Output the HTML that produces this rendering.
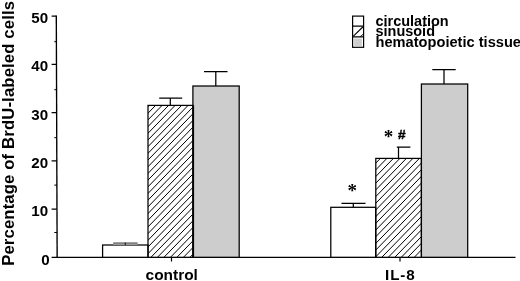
<!DOCTYPE html>
<html><head><meta charset="utf-8">
<style>
html,body{margin:0;padding:0;background:#fff;}
svg{display:block;}
text{font-family:"Liberation Sans",sans-serif;font-weight:bold;fill:#000;}
</style></head>
<body>
<svg width="520" height="281" viewBox="0 0 520 281">
<rect width="520" height="281" fill="#fff"/>
<g stroke="#000" stroke-width="1.2" fill="none">
<path d="M56.3,15.6 L57.15,257.9" stroke-width="1.35"/>
<path d="M56.55,257.3 H515.5"/>
<path d="M51.6,257.3 H57.15 M51.6,209.08 H56.98 M51.6,160.86 H56.81 M51.6,112.64 H56.64 M51.6,64.42 H56.47 M51.6,16.2 H56.3"/>
<path d="M54.3,232.5 H57.06 M54.3,185.1 H56.9 M54.3,137.7 H56.73 M54.3,89.7 H56.56 M54.3,41.7 H56.39" stroke-width="1"/>
<path d="M171.5,257.3 V261.5 M400,257.3 V261.5"/>
</g>
<rect x="102.6" y="245" width="45.4" height="12.3" fill="#fff" stroke="none"/>
<rect x="148" y="105.4" width="44.9" height="151.9" fill="#fff" stroke="none"/>
<clipPath id="c1"><rect x="148" y="105.4" width="44.9" height="151.9"/></clipPath>
<path clip-path="url(#c1)" d="M150.07,104.4 L0.48,258.3 M156.57,104.4 L6.98,258.3 M163.07,104.4 L13.48,258.3 M169.57,104.4 L19.98,258.3 M176.07,104.4 L26.48,258.3 M182.57,104.4 L32.98,258.3 M189.07,104.4 L39.48,258.3 M195.57,104.4 L45.98,258.3 M202.07,104.4 L52.48,258.3 M208.57,104.4 L58.98,258.3 M215.07,104.4 L65.48,258.3 M221.57,104.4 L71.98,258.3 M228.07,104.4 L78.48,258.3 M234.57,104.4 L84.98,258.3 M241.07,104.4 L91.48,258.3 M247.57,104.4 L97.98,258.3 M254.07,104.4 L104.48,258.3 M260.57,104.4 L110.98,258.3 M267.07,104.4 L117.48,258.3 M273.57,104.4 L123.98,258.3 M280.07,104.4 L130.48,258.3 M286.57,104.4 L136.98,258.3 M293.07,104.4 L143.48,258.3 M299.57,104.4 L149.98,258.3 M306.07,104.4 L156.48,258.3 M312.57,104.4 L162.98,258.3 M319.07,104.4 L169.48,258.3 M325.57,104.4 L175.98,258.3 M332.07,104.4 L182.48,258.3 M338.57,104.4 L188.98,258.3" stroke="#000" stroke-width="1" fill="none"/>
<rect x="192.9" y="86" width="46.3" height="171.3" fill="#cdcdcd" stroke="none"/>
<rect x="330.8" y="207.3" width="44.9" height="50" fill="#fff" stroke="none"/>
<rect x="375.8" y="158.4" width="45.6" height="98.9" fill="#fff" stroke="none"/>
<clipPath id="c4"><rect x="375.8" y="158.4" width="45.6" height="98.9"/></clipPath>
<path clip-path="url(#c4)" d="M381.37,157.4 L283.3,258.3 M387.87,157.4 L289.8,258.3 M394.37,157.4 L296.3,258.3 M400.87,157.4 L302.8,258.3 M407.37,157.4 L309.3,258.3 M413.87,157.4 L315.8,258.3 M420.37,157.4 L322.3,258.3 M426.87,157.4 L328.8,258.3 M433.37,157.4 L335.3,258.3 M439.87,157.4 L341.8,258.3 M446.37,157.4 L348.3,258.3 M452.87,157.4 L354.8,258.3 M459.37,157.4 L361.3,258.3 M465.87,157.4 L367.8,258.3 M472.37,157.4 L374.3,258.3 M478.87,157.4 L380.8,258.3 M485.37,157.4 L387.3,258.3 M491.87,157.4 L393.8,258.3 M498.37,157.4 L400.3,258.3 M504.87,157.4 L406.8,258.3 M511.37,157.4 L413.3,258.3 M517.87,157.4 L419.8,258.3" stroke="#000" stroke-width="1" fill="none"/>
<rect x="421.4" y="84" width="46.3" height="173.3" fill="#cdcdcd" stroke="none"/>
<rect x="102.6" y="245" width="45.4" height="12.3" fill="none" stroke="#000" stroke-width="1.25"/>
<rect x="148" y="105.4" width="44.9" height="151.9" fill="none" stroke="#000" stroke-width="1.25"/>
<rect x="192.9" y="86" width="46.3" height="171.3" fill="none" stroke="#000" stroke-width="1.25"/>
<rect x="330.8" y="207.3" width="44.9" height="50" fill="none" stroke="#000" stroke-width="1.25"/>
<rect x="375.8" y="158.4" width="45.6" height="98.9" fill="none" stroke="#000" stroke-width="1.25"/>
<rect x="421.4" y="84" width="46.3" height="173.3" fill="none" stroke="#000" stroke-width="1.25"/>
<g stroke="#000" stroke-width="1.25" fill="none">
<rect x="113.2" y="242.6" width="24.4" height="2.4" fill="#9a9a9a" stroke="none"/>
<path d="M113.2,243 H137.6" stroke="#6a6a6a" stroke-width="1"/><path d="M125.3,242.4 V245" stroke="#222" stroke-width="1.2"/>
<path d="M193.6,105.4 V257.3" stroke-width="1"/>
<path d="M170.3,105.3 V98.2 M159.2,98.2 H182.2"/>
<path d="M215.8,86 V71.6 M204,71.6 H227.5"/>
<path d="M353.3,207.3 V203.4 M341.5,203.4 H365.5"/>
<path d="M398.5,158.5 V147.1 M396.8,147.1 H410.4"/>
<path d="M444,84 V69.6 M432.3,69.6 H455.7"/>
</g>
<g stroke="#000" stroke-width="1.2" fill="none">
<rect x="352.6" y="16.1" width="11" height="31.2" fill="#fff"/>
<rect x="354.2" y="38.6" width="7.7" height="7.3" fill="#cdcdcd" stroke="none"/>
<path d="M352.6,26.2 H363.6 M352.6,36.9 H363.6"/>
<path d="M353.4,36.2 L362.8,27" stroke-width="1.1"/>
<path d="M360.2,36.6 L363.2,34.2" stroke-width="0.9"/>
</g>
<text transform="translate(375.5,25.7) scale(1.05,1)" font-size="13.8px" text-anchor="start">circulation</text>
<text transform="translate(375.5,35.6) scale(1.05,1)" font-size="13.8px" text-anchor="start">sinusoid</text>
<text transform="translate(375.5,46.6) scale(1.06,1)" font-size="13.8px" text-anchor="start">hematopoietic tissue</text>
<text transform="translate(49.7,264.6) scale(1.08,1)" font-size="14px" text-anchor="end">0</text>
<text transform="translate(48.1,215.98) scale(1.08,1)" font-size="14px" text-anchor="end">10</text>
<text transform="translate(48.1,167.76) scale(1.08,1)" font-size="14px" text-anchor="end">20</text>
<text transform="translate(48.1,119.54) scale(1.08,1)" font-size="14px" text-anchor="end">30</text>
<text transform="translate(48.1,71.32) scale(1.08,1)" font-size="14px" text-anchor="end">40</text>
<text transform="translate(48.1,23.1) scale(1.08,1)" font-size="14px" text-anchor="end">50</text>
<text transform="translate(171.7,279.5) scale(1.08,1)" font-size="14.3px" text-anchor="middle">control</text>
<text transform="translate(400.3,279.5) scale(1.05,1)" font-size="14.5px" text-anchor="middle" letter-spacing="0.8">IL-8</text>
<text font-size="16.7px" transform="translate(14.4,265.8) rotate(-90)" textLength="264.8" lengthAdjust="spacing">Percentage of BrdU-labeled cells</text>
<g text-anchor="middle">
<text x="388.4" y="143.4" font-size="19px" font-weight="bold" style="font-family:'Liberation Serif',serif">*</text>
<text x="401.8" y="139.2" font-size="13.7px" stroke="#000" stroke-width="0.45">#</text>
<text x="352.3" y="196.9" font-size="19px" font-weight="bold" style="font-family:'Liberation Serif',serif">*</text>
</g>
</svg>
</body></html>
